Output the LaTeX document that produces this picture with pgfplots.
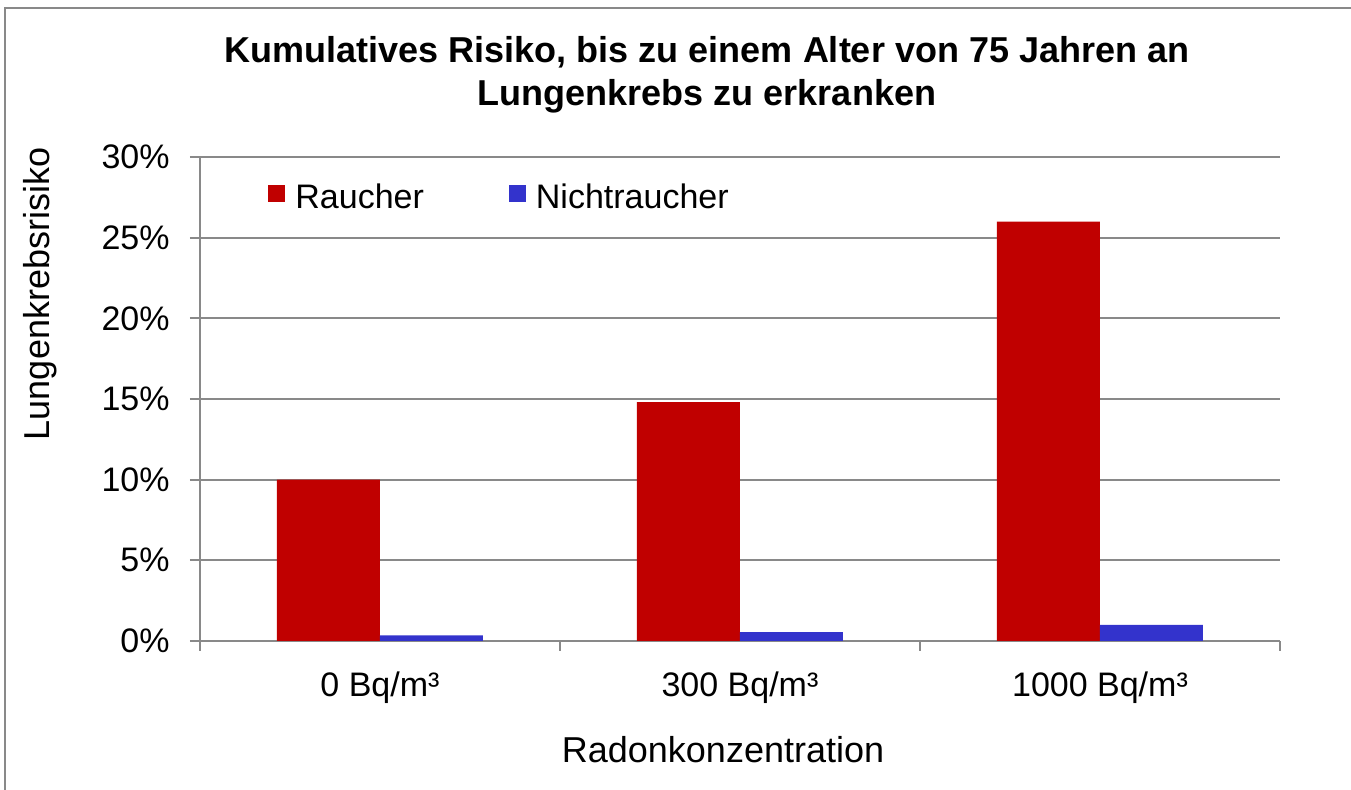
\documentclass[border=0pt]{standalone}
\usepackage{pgfplots}
\pgfplotsset{compat=1.18}
\usepackage{fontspec}
\setmainfont{Liberation Sans}
\definecolor{rauch}{HTML}{C00000}
\definecolor{nicht}{HTML}{3333CC}
\definecolor{gridgray}{HTML}{898989}
\begin{document}
\begin{tikzpicture}
\useasboundingbox (-100pt,-74.5pt) rectangle (575.5pt,320.5pt);
\draw[gridgray, line width=1pt] (-97.5pt,-80pt) -- (-97.5pt,316.5pt) -- (580pt,316.5pt);
\node[anchor=base, font=\fontsize{18}{21}\selectfont\bfseries] at (253.5pt,289pt) {Kumulatives Risiko, bis zu einem Alter von 75 Jahren an};
\node[anchor=base, font=\fontsize{18}{21}\selectfont\bfseries] at (253.5pt,267.5pt) {Lungenkrebs zu erkranken};
\begin{axis}[
  scale only axis, width=540pt, height=242pt,
  ybar=0pt, bar width=51.5pt,
  xmin=-0.5, xmax=2.5, ymin=0, ymax=30,
  xtick={-0.5,0.5,1.5,2.5}, xticklabels={},
  extra x ticks={0,1,2},
  extra x tick labels={0 Bq/m³,300 Bq/m³,1000 Bq/m³},
  extra x tick style={major tick length=0pt, grid=none},
  ytick={0,5,...,30}, yticklabels={0\%,5\%,10\%,15\%,20\%,25\%,30\%},
  axis x line*=bottom, axis y line*=left,
  tick align=outside, major tick length=5pt,
  ymajorgrids, major grid style={gridgray, line width=1pt},
  axis line style={gridgray, line width=1pt},
  tick style={gridgray, line width=1pt},
  ticklabel style={font=\fontsize{17}{20}\selectfont},
  xticklabel style={anchor=base, yshift=-28pt, inner sep=0pt},
  yticklabel style={anchor=east, inner sep=0pt, xshift=-10pt},
  label style={font=\fontsize{18}{21}\selectfont},
  xlabel={Radonkonzentration},
  ylabel={Lungenkrebsrisiko},
  xlabel style={at={(axis description cs:0.4843,-0.2252)}, anchor=center},
  ylabel style={at={(axis description cs:-0.1481,0.717)}, anchor=center},
  legend columns=2,
  legend style={at={(axis description cs:0.063,0.916)}, anchor=west, draw=none, fill=none, inner sep=0pt,
    font=\fontsize{17}{20}\selectfont, nodes={inner sep=0pt},
    /tikz/every odd column/.append style={column sep=5pt},
    /tikz/every even column/.append style={column sep=42.5pt}},
  legend image code/.code={\fill[#1] (0pt,-2.25pt) rectangle (8.5pt,6.25pt);},
]
\addplot[fill=rauch, draw=none] coordinates {(0,10) (1,14.8) (2,26)};
\addplot[fill=nicht, draw=none] coordinates {(0,0.35) (1,0.55) (2,1.0)};
\legend{Raucher,Nichtraucher}
\end{axis}
\end{tikzpicture}
\end{document}
